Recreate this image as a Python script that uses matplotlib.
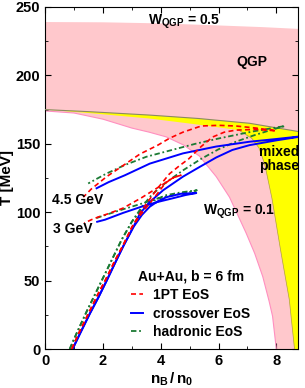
import matplotlib
matplotlib.use('Agg')
import matplotlib.pyplot as plt
from matplotlib.ticker import MultipleLocator

plt.rcParams['font.family'] = ['Liberation Sans', 'DejaVu Sans']
plt.rcParams['font.weight'] = 'bold'
plt.rcParams['mathtext.fontset'] = 'custom'
plt.rcParams['mathtext.rm'] = 'Liberation Sans:bold'
plt.rcParams['mathtext.bf'] = 'Liberation Sans:bold'
plt.rcParams['mathtext.it'] = 'Liberation Sans:bold'

# ---- phase regions (n_B/n_0, T[MeV]) ----
W05_N = [0.0, 2.0, 4.0, 6.0, 7.5, 8.75]
W05_T = [239.0, 238.8, 238.0, 236.5, 235.3, 234.0]

W01_N = [0.0, 1.0, 2.0, 3.0, 3.6, 4.2, 4.8, 5.34, 5.92, 6.38, 6.95, 7.25, 7.53, 7.75, 7.87, 8.0]
W01_T = [174.0, 172.5, 168.0, 161.5, 158.5, 155.0, 149.0, 141.0, 126.0, 111.0, 85.0, 70.0, 53.0, 35.0, 24.0, 0.0]

MIX_TOP_N = [0.0, 1.5, 3.6, 5.3, 7.07, 8.75]
MIX_TOP_T = [175.0, 173.5, 171.0, 168.5, 165.0, 159.0]

MIX_LOW_N = [0.0, 1.5, 3.6, 5.3, 6.7, 7.15, 7.4, 7.6, 7.85, 8.15, 8.45, 8.63]
MIX_LOW_T = [175.0, 172.5, 168.5, 164.0, 160.0, 154.0, 147.0, 135.0, 110.0, 72.0, 36.0, 0.0]

# ---- trajectories: compression then expansion ----
PT1_3_N = [0.92, 1.15, 1.5, 1.8, 2.1, 2.4, 2.7, 3.0, 3.3, 3.6, 3.9, 4.15, 4.4, 4.7,
           4.45, 4.2, 3.9, 3.33, 2.7, 2.2, 1.84, 1.6, 1.35]
PT1_3_T = [0.0, 11.0, 26.0, 39.0, 51.0, 64.0, 76.0, 89.0, 98.0, 106.0, 114.0, 121.0, 125.0, 127.0,
           125.5, 122.0, 118.0, 110.5, 103.0, 99.0, 96.5, 94.5, 92.0]
PT1_45_N = [0.92, 1.15, 1.5, 1.8, 2.1, 2.4, 2.7, 3.0, 3.3, 3.6, 3.95, 4.3, 4.65, 4.97, 5.4, 5.8,
            6.2, 6.6, 7.3, 8.0, 7.3, 6.6, 6.0, 5.4, 4.77, 4.3, 3.9, 3.28, 2.76, 2.13, 1.6, 1.32]
PT1_45_T = [0.0, 11.0, 26.0, 39.0, 51.0, 64.0, 76.0, 89.0, 100.0, 109.0, 119.0, 128.0, 134.0, 139.0,
            148.0, 155.0, 158.5, 160.0, 160.5, 159.5, 161.5, 163.0, 163.5, 163.0, 158.5, 154.0,
            149.0, 142.5, 135.0, 126.0, 117.0, 111.0]

CRS_3_N = [0.95, 1.2, 1.55, 1.85, 2.13, 2.4, 2.7, 3.05, 3.35, 3.62, 3.9, 4.2, 4.7, 5.23,
           4.85, 4.48, 3.9, 3.33, 2.7, 2.07, 1.8]
CRS_3_T = [0.0, 11.0, 26.0, 38.0, 50.0, 62.0, 75.0, 89.0, 98.0, 104.0, 108.0, 111.0, 113.5, 114.0,
           112.5, 110.5, 107.5, 104.0, 99.5, 94.5, 93.0]
CRS_45_N = [0.95, 1.2, 1.55, 1.85, 2.13, 2.4, 2.7, 3.05, 3.28, 3.6, 4.08, 4.77, 5.34, 5.92, 6.48,
            7.07, 8.0, 9.0, 8.0, 7.07, 5.92, 4.77, 4.31, 3.62, 2.76, 2.2, 1.78]
CRS_45_T = [0.0, 11.0, 26.0, 38.0, 50.0, 62.0, 75.0, 89.0, 99.0, 107.0, 116.0, 126.0, 133.0, 140.0,
            145.5, 149.0, 152.5, 155.8, 153.5, 151.5, 148.0, 143.0, 140.0, 135.5, 127.0, 122.0, 117.5]

HAD_3_N = [0.85, 1.1, 1.45, 1.75, 2.05, 2.35, 2.65, 3.0, 3.3, 3.6, 3.9, 4.2, 4.7, 5.25,
           4.85, 4.48, 3.9, 3.3, 2.6, 1.95, 1.75]
HAD_3_T = [0.0, 12.0, 28.0, 41.0, 54.0, 67.0, 80.0, 93.0, 101.0, 106.5, 110.0, 112.5, 114.5, 116.0,
           114.0, 112.5, 110.0, 106.0, 101.5, 97.0, 95.5]
HAD_45_N = [0.85, 1.1, 1.45, 1.75, 2.05, 2.35, 2.65, 3.0, 3.35, 3.7, 4.2, 4.8, 5.4, 6.0, 6.6,
            7.2, 7.8, 8.3, 7.18, 6.03, 5.2, 4.48, 3.5, 2.76, 2.1, 1.49]
HAD_45_T = [0.0, 12.0, 28.0, 41.0, 54.0, 67.0, 80.0, 93.0, 104.0, 113.0, 122.0, 131.0, 139.0, 146.0,
            151.5, 156.0, 160.0, 163.0, 159.0, 154.0, 150.0, 146.0, 140.5, 134.5, 128.0, 121.0]

PINK = '#ffc8cc'
YELLOW = '#ffff00'
RED = '#ff0000'
BLUE = '#0000ff'
GREEN = '#1b7a34'

fig = plt.figure(figsize=(3.05, 3.88), dpi=100)
ax = fig.add_axes([0.148, 0.1005, 0.829, 0.8815])

# pink band between W=0.5 and W=0.1
pink_n = W05_N + [8.75, 8.75] + W01_N[::-1]
pink_t = W05_T + [W05_T[-1], 0.0] + W01_T[::-1]
ax.fill(pink_n, pink_t, color=PINK, lw=0, zorder=1)
ax.plot(W01_N, W01_T, color='#ff8fc0', lw=0.8, zorder=2)

# mixed phase
yel_n = MIX_TOP_N + [8.75] + MIX_LOW_N[::-1]
yel_t = MIX_TOP_T + [0.0] + MIX_LOW_T[::-1]
ax.fill(yel_n, yel_t, color=YELLOW, lw=0, zorder=2)
ax.plot(MIX_TOP_N, MIX_TOP_T, color='#8a8a60', lw=0.8, zorder=3)
ax.plot(MIX_LOW_N[4:], MIX_LOW_T[4:], color='#b0a040', lw=0.5, zorder=3)

# trajectories
DASH_DOT = (3.0, 1.5, 1.0, 1.5)
DASH = (3.0, 2.0)
ax.plot(HAD_3_N, HAD_3_T, color=GREEN, ls='-.', dashes=DASH_DOT, lw=1.3, zorder=4)
ax.plot(HAD_45_N, HAD_45_T, color=GREEN, ls='-.', dashes=DASH_DOT, lw=1.3, zorder=4,
        label='hadronic EoS')
ax.plot(CRS_3_N, CRS_3_T, color=BLUE, ls='-', lw=1.4, zorder=5)
ax.plot(CRS_45_N, CRS_45_T, color=BLUE, ls='-', lw=1.4, zorder=5, label='crossover EoS')
ax.plot(PT1_3_N, PT1_3_T, color=RED, ls='--', dashes=DASH, lw=1.2, zorder=6)
ax.plot(PT1_45_N, PT1_45_T, color=RED, ls='--', dashes=DASH, lw=1.2, zorder=6, label='1PT EoS')

# annotations
ax.text(3.55, 239, r'$\mathbf{W}_{\mathbf{QGP}}$ = 0.5', fontsize=10, fontweight='bold', va='center', zorder=7)
ax.text(7.14, 210, 'QGP', fontsize=10, fontweight='bold', ha='center', va='center', zorder=7)
ax.text(8.1, 139, 'mixed\nphase', fontsize=10, fontweight='bold', ha='center', va='center',
        linespacing=0.95, zorder=7)
ax.text(5.45, 100, r'$\mathbf{W}_{\mathbf{QGP}}$ = 0.1', fontsize=10, fontweight='bold', va='center', zorder=7)
ax.text(0.24, 109, '4.5 GeV', fontsize=10, fontweight='bold', va='center', zorder=7)
ax.text(0.27, 87.5, '3 GeV', fontsize=10, fontweight='bold', va='center', zorder=7)

handles, labels = ax.get_legend_handles_labels()
order = [2, 1, 0]
leg = ax.legend([handles[i] for i in order], [labels[i] for i in order],
                title='Au+Au, b = 6 fm', loc='upper left', bbox_to_anchor=(0.34, 0.232),
                frameon=False, fontsize=10, title_fontsize=10, handlelength=0.85,
                handletextpad=0.75, labelspacing=0.32, borderpad=0.0, borderaxespad=0.0)
leg.get_title().set_fontweight('bold')
leg.set_zorder(8)

ax.set_xlim(0, 8.75)
ax.set_ylim(0, 250)
ax.xaxis.set_major_locator(MultipleLocator(2))
ax.xaxis.set_minor_locator(MultipleLocator(1))
ax.yaxis.set_major_locator(MultipleLocator(50))
ax.yaxis.set_minor_locator(MultipleLocator(25))
ax.tick_params(which='both', direction='in', top=True, right=True, labelsize=10.5)
ax.tick_params(which='major', length=4)
ax.tick_params(which='minor', length=2.5)
for lab in ax.get_xticklabels() + ax.get_yticklabels():
    lab.set_fontweight('bold')

ax.set_xlabel(r'$\mathbf{n}_{\mathbf{B}}\,/\,\mathbf{n}_{\mathbf{0}}$', fontsize=11, labelpad=2)
ax.set_ylabel('T [MeV]', fontsize=11, fontweight='bold', labelpad=1)

fig.savefig('out.png', dpi=100)
